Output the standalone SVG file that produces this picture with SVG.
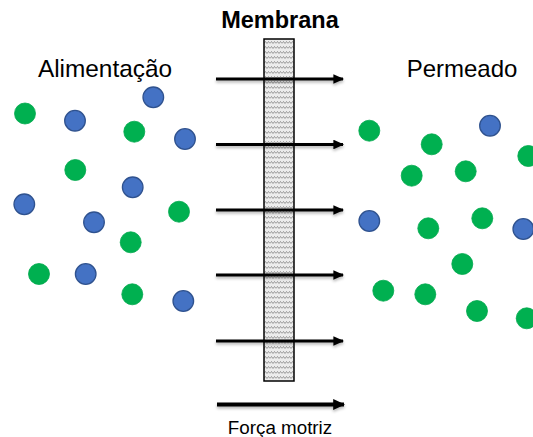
<svg xmlns="http://www.w3.org/2000/svg" width="533" height="437" viewBox="0 0 533 437">
  <style>
    .label { font-family: "Liberation Sans", Arial, sans-serif; fill: #000; }
    .green { fill: #00B050; stroke: #00A84C; stroke-width: 0.8; }
    .blue { fill: #4472C4; stroke: #2F528F; stroke-width: 1.3; }
    .flow { stroke: #000; stroke-width: 3; fill: none; marker-end: url(#head); filter: url(#soft); }
  </style>
  <defs>
    <marker id="head" viewBox="0 0 10 9" refX="9" refY="4.5" markerWidth="3.6" markerHeight="3.2" markerUnits="strokeWidth" orient="auto">
      <path d="M0,0 L10,4.5 L0,9 Z" fill="#000"/>
    </marker>
    <marker id="headBig" viewBox="0 0 10 9" refX="9" refY="4.5" markerWidth="3" markerHeight="2.7" markerUnits="strokeWidth" orient="auto">
      <path d="M0,0 L10,4.5 L0,9 Z" fill="#000"/>
    </marker>
    <filter id="soft" filterUnits="userSpaceOnUse" x="0" y="0" width="533" height="437">
      <feGaussianBlur in="SourceAlpha" stdDeviation="1.6"/>
      <feOffset dy="2"/>
      <feComponentTransfer><feFuncA type="linear" slope="0.3"/></feComponentTransfer>
      <feMerge><feMergeNode/><feMergeNode in="SourceGraphic"/></feMerge>
    </filter>
    <pattern id="waves" width="6" height="5" patternUnits="userSpaceOnUse">
      <rect width="6" height="5" fill="#ECECEC"/>
      <path d="M0,3.5 L1.5,1.5 L3,3.5 L4.5,1.5 L6,3.5" fill="none" stroke="#7E7E7E" stroke-width="0.75"/>
    </pattern>
  </defs>

  <!-- headings -->
  <text class="label" x="280" y="27.5" font-size="23.5" font-weight="bold" text-anchor="middle">Membrana</text>
  <text class="label" x="105" y="77" font-size="24.4" text-anchor="middle">Alimentação</text>
  <text class="label" x="462" y="77" font-size="24" text-anchor="middle">Permeado</text>

  <!-- membrane -->
  <g id="membrane">
    <rect x="264" y="39" width="30" height="342" fill="url(#waves)" stroke="#000" stroke-width="1.5"/>
  </g>

  <!-- feed side particles -->
  <g id="feed">
    <circle class="green" cx="25" cy="113.5" r="10.5"/>
    <circle class="blue" cx="75" cy="120.7" r="10.3"/>
    <circle class="blue" cx="153.3" cy="97.3" r="10.3"/>
    <circle class="green" cx="134.3" cy="131.7" r="10.5"/>
    <circle class="blue" cx="185" cy="139" r="10.3"/>
    <circle class="green" cx="75.3" cy="170" r="10.5"/>
    <circle class="blue" cx="132.7" cy="187.3" r="10.3"/>
    <circle class="blue" cx="24.3" cy="204.3" r="10.3"/>
    <circle class="green" cx="179" cy="211.7" r="10.5"/>
    <circle class="blue" cx="94" cy="222.3" r="10.3"/>
    <circle class="green" cx="130.7" cy="242.3" r="10.5"/>
    <circle class="green" cx="39" cy="274" r="10.5"/>
    <circle class="blue" cx="85.7" cy="274" r="10.3"/>
    <circle class="green" cx="132.3" cy="294.3" r="10.5"/>
    <circle class="blue" cx="183.3" cy="301" r="10.3"/>
  </g>

  <!-- permeate side particles -->
  <g id="permeate">
    <circle class="green" cx="369.3" cy="130.7" r="10.5"/>
    <circle class="blue" cx="490" cy="125.7" r="10.3"/>
    <circle class="green" cx="431.7" cy="144.3" r="10.5"/>
    <circle class="green" cx="528.3" cy="156" r="10.5"/>
    <circle class="green" cx="411.7" cy="175.7" r="10.5"/>
    <circle class="green" cx="465.7" cy="171.3" r="10.5"/>
    <circle class="blue" cx="369.3" cy="221" r="10.3"/>
    <circle class="green" cx="428.3" cy="228.3" r="10.5"/>
    <circle class="green" cx="482.3" cy="218.3" r="10.5"/>
    <circle class="blue" cx="523.3" cy="229" r="10.3"/>
    <circle class="green" cx="462.3" cy="264" r="10.5"/>
    <circle class="green" cx="383.3" cy="290.7" r="10.5"/>
    <circle class="green" cx="425.3" cy="294.3" r="10.5"/>
    <circle class="green" cx="477" cy="311" r="10.5"/>
    <circle class="green" cx="526.7" cy="318.3" r="10.5"/>
  </g>

  <!-- flow arrows through the membrane -->
  <g id="connectors">
    <line class="flow" x1="216" y1="79" x2="343" y2="79"/>
    <line class="flow" x1="216" y1="144.5" x2="343" y2="144.5"/>
    <line class="flow" x1="216" y1="210" x2="343" y2="210"/>
    <line class="flow" x1="216" y1="275" x2="343" y2="275"/>
    <line class="flow" x1="216" y1="341" x2="343" y2="341"/>
  </g>

  <!-- driving force -->
  <g id="driving-force">
    <line x1="217" y1="404.5" x2="344" y2="404.5" stroke="#000" stroke-width="4" marker-end="url(#headBig)" filter="url(#soft)"/>
    <text class="label" x="280" y="434" font-size="18.8" text-anchor="middle">Força motriz</text>
  </g>
</svg>
